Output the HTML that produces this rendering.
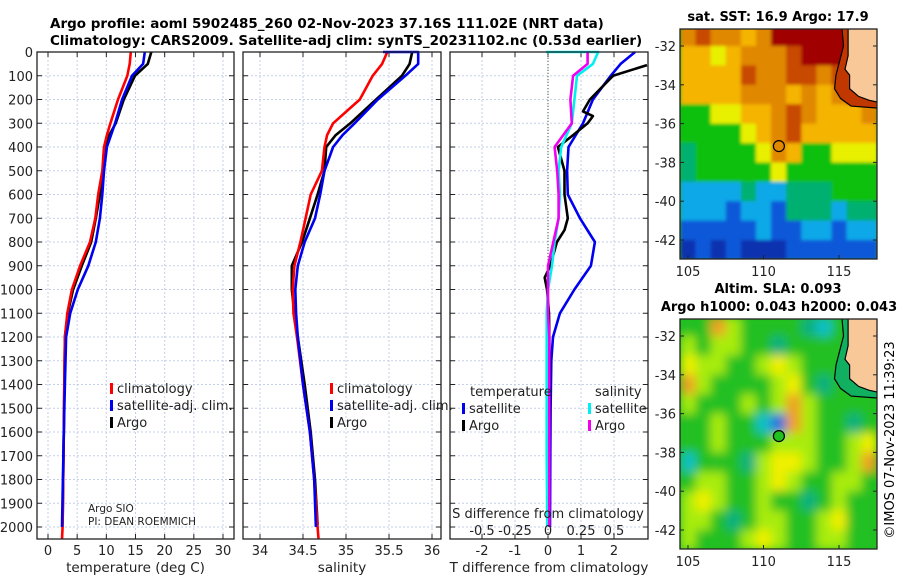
<!DOCTYPE html>
<html><head><meta charset="utf-8">
<style>
html,body{margin:0;padding:0;background:#fff;}
svg{display:block;font-family:"DejaVu Sans","Liberation Sans",sans-serif;}
</style></head>
<body>
<svg id="fig" width="900" height="580" viewBox="0 0 900 580" xmlns="http://www.w3.org/2000/svg">
<defs>
<filter id="blurSla" x="-5%" y="-5%" width="110%" height="110%"><feGaussianBlur stdDeviation="5" edgeMode="duplicate"/></filter>
<filter id="blurSst" x="-5%" y="-5%" width="110%" height="110%"><feGaussianBlur stdDeviation="1.5" edgeMode="duplicate"/></filter>
</defs>
<rect x="0" y="0" width="900" height="580" fill="#fff"/>
<text x="50" y="28" font-size="13.5" font-weight="bold">Argo profile: aoml 5902485_260 02-Nov-2023 37.16S 111.02E (NRT data)</text>
<text x="50" y="45" font-size="13.5" font-weight="bold">Climatology: CARS2009. Satellite-adj clim: synTS_20231102.nc (0.53d earlier)</text>
<g id="p1"></g>
<g id="p2"></g>
<g id="p3"></g>
<g id="m1"></g>
<g id="m2"></g>
<text transform="translate(894,440) rotate(-90)" text-anchor="middle" font-size="13">©IMOS 07-Nov-2023 11:39:23</text>
</svg>
<script>
// ---------- data ----------
const depthTicks = [0,100,200,300,400,500,600,700,800,900,1000,1100,1200,1300,1400,1500,1600,1700,1800,1900,2000];
const tempTicks = [0,5,10,15,20,25,30];
const salTicks = [34,34.5,35,35.5,36];
const tdiffTicks = [-2,-1,0,1,2];
const sdiffTicks = [-0.5,-0.25,0,0.25,0.5];
const sdiffTickLabels = ["-0.5","-0.25","0","0.25","0.5"];

const climDepth = [0,50,100,200,300,350,400,500,600,700,800,900,1000,1100,1200,1400,1600,1800,2000,2050];
const tempClim = [14.2,14.0,13.6,12.0,10.7,10.1,9.6,9.3,8.6,8.1,7.2,5.5,4.1,3.3,2.9,2.8,2.7,2.6,2.5,2.4];
const salClim = [35.48,35.42,35.31,35.16,34.85,34.78,34.75,34.72,34.59,34.53,34.47,34.40,34.38,34.39,34.43,34.50,34.58,34.63,34.67,34.68];

const satDepth = [0,50,100,200,300,350,400,500,600,700,800,900,1000,1100,1200,1400,1600,1800,2000];
const tempSat = [16.6,16.3,14.4,12.7,11.5,10.8,10.1,9.6,9.3,8.9,8.2,6.9,5.1,3.8,3.1,2.9,2.7,2.55,2.4];
const salSatDepth = [0,0,50,100,200,300,350,400,500,600,700,800,900,1000,1100,1200,1400,1600,1800,2000];
const salSat = [35.43,35.84,35.84,35.69,35.37,35.10,34.96,34.85,34.75,34.70,34.64,34.52,34.44,34.41,34.42,34.44,34.50,34.58,34.63,34.65];

const argoDepth = [0,50,100,200,300,350,400,500,600,700,800,900,1000,1100,1200,1400,1600,1800,1990];
const tempArgo = [17.7,17.1,14.9,13.0,11.6,10.5,9.9,9.4,8.9,8.2,7.4,5.8,4.3,3.4,2.9,2.8,2.7,2.6,2.5];
const salArgo = [35.77,35.74,35.65,35.35,35.05,34.88,34.77,34.75,34.67,34.58,34.49,34.37,34.37,34.40,34.44,34.52,34.59,34.64,34.67];

const diffDepth = [0,50,100,200,300,400,500,600,700,800,900,1000,1100,1200,1300,1500,1700,2000];
const dTsat = [2.64,2.2,1.9,1.36,1.06,0.62,0.58,0.6,0.97,1.42,1.3,0.8,0.36,0.15,0.1,0.08,0.07,0.06];
const dTargoDepth = [55,100,200,250,270,300,350,400,500,600,700,750,800,900,950,1000,1100,1300,1500,1700,1990];
const dTargo = [3.0,1.97,1.27,1.06,1.36,1.2,0.76,0.3,0.5,0.5,0.6,0.5,0.27,0.07,-0.1,-0.03,0.03,0.05,0.05,0.03,0.03];
const dSsatDepth = [0,0,50,100,200,300,400,500,600,700,800,900,1000,1100,1200,1300,1500,1700,2000];
const dSsat = [-0.015,0.38,0.34,0.22,0.2,0.18,0.1,0.08,0.09,0.08,0.05,0.03,0.0,-0.01,-0.01,-0.01,-0.01,-0.01,-0.005];
const dSargo = [0.3,0.3,0.19,0.17,0.18,0.05,0.07,0.08,0.08,0.04,0.0,0.0,0.0,0.01,0.01,0.01,0.01,0.01];

const lonTicks = [105,110,115];
const latTicks = [-32,-34,-36,-38,-40,-42];
const argoLon = 111.02, argoLat = -37.16;
const sstGrid = [
[2,1,2,2,3,2,0,0,0,0,0,1,10],
[3,3,4,3,2,2,2,1,0,0,0,1,10],
[3,3,3,3,1,2,2,1,1,2,1,1,10],
[3,3,3,3,2,2,2,3,2,3,2,1,1],
[5,5,4,4,3,3,2,1,2,3,3,3,2],
[5,5,5,5,4,3,2,1,3,3,3,3,3],
[6,5,5,5,5,4,2,3,5,5,4,4,4],
[6,5,5,5,5,5,4,5,5,5,5,5,5],
[7,7,7,7,6,7,7,6,6,6,5,5,5],
[7,7,7,8,7,7,8,6,6,6,7,6,6],
[8,8,8,8,8,7,8,8,7,7,8,7,7],
[9,8,9,8,9,9,9,8,8,8,8,8,8]];
const slaGrid = [
[3,3,6,4,3,3,3,3,2,1,3,3,3],
[4,3,4,4,3,3,2,3,3,3,3,3,3],
[5,4,4,3,3,4,5,4,3,3,3,3,3],
[6,4,3,3,3,3,4,5,3,2,3,3,3],
[4,3,3,3,4,3,4,6,4,3,3,3,3],
[3,3,4,3,3,1,0,6,4,3,3,2,3],
[3,3,4,3,3,3,4,4,4,3,3,4,5],
[1,3,3,3,2,4,5,5,4,3,3,4,6],
[3,4,4,3,3,4,5,4,3,3,4,4,3],
[4,5,4,3,3,4,3,3,2,3,4,3,3],
[4,4,3,2,3,4,4,3,3,4,5,3,3],
[4,3,3,3,4,5,4,3,3,4,4,3,3]];
const landLon = [115.6,115.6,115.4,115.7,115.7,116.3,117.0,117.6,117.6];
const landLat = [-31.1,-32.5,-33.2,-33.5,-34.2,-34.6,-34.8,-34.9,-31.1];
const shelfLon = [115.2,115.3,114.8,114.7,115.1,115.8,117.6];
const shelfLat = [-31.1,-32.0,-33.5,-34.2,-34.7,-35.1,-35.2];

// ---------- helpers ----------
const NS = "http://www.w3.org/2000/svg";
function mk(parent, tag, attrs){ const e=document.createElementNS(NS,tag); for(const k in attrs) e.setAttribute(k,attrs[k]); parent.appendChild(e); return e; }
function txt(parent, x, y, s, size, anchor){ const t=mk(parent,'text',{x:x,y:y,'font-size':size,'text-anchor':anchor||'start',fill:'#222'}); t.textContent=s; return t; }

const TOP=52, D2000=527, BOT=539;
function yD(d){ return TOP + d*(D2000-TOP)/2000; }
function lin(v0,x0,v1,x1){ return v=> x0 + (v-v0)*(x1-x0)/(v1-v0); }
const xT = lin(0,48,30,223);
const xS = lin(34,260,36,432);
const xTd = lin(0,548,2,614);
const xSd = lin(0,548,0.5,614);

function panel(g, L, R, xs, xticks, xlabels, xtitle, gridTicks, showY){
  gridTicks.forEach(v=>{ const l=mk(g,'line',{x1:xs(v),x2:xs(v),y1:TOP,y2:BOT,stroke:'#c6cfe8','stroke-width':1,'stroke-dasharray':'2,2'});   });
  depthTicks.forEach(d=>{ const l=mk(g,'line',{x1:L,x2:R,y1:yD(d),y2:yD(d),stroke:'#c6cfe8','stroke-width':1,'stroke-dasharray':'2,2'});   });
  depthTicks.forEach(d=>{ mk(g,'line',{x1:L,x2:L+5,y1:yD(d),y2:yD(d),stroke:'#222'}); mk(g,'line',{x1:R-5,x2:R,y1:yD(d),y2:yD(d),stroke:'#222'}); });
  xticks.forEach(v=>{ mk(g,'line',{x1:xs(v),x2:xs(v),y1:BOT,y2:BOT-5,stroke:'#222'}); mk(g,'line',{x1:xs(v),x2:xs(v),y1:TOP,y2:TOP+5,stroke:'#222'}); });
  if(showY){ depthTicks.forEach(d=>{ const t=txt(g,33,yD(d)+5,String(d),13,'end');   }); }
  xticks.forEach((v,i)=>{ const t=txt(g,xs(v),BOT+16,xlabels[i],13,'middle');   });
  const tt=txt(g,(L+R)/2,BOT+33,xtitle,13.5,'middle');  
}
function frame(g,L,R){ const f=mk(g,'rect',{x:L,y:TOP,width:R-L,height:BOT-TOP,fill:'none',stroke:'#222','stroke-width':1.3});   }
function line(g, depths, vals, xs, color, name, w){
  const pts = depths.map((d,i)=> xs(vals[i]).toFixed(1)+','+yD(d).toFixed(1)).join(' ');
  const p=mk(g,'polyline',{points:pts,fill:'none',stroke:color,'stroke-width':w||2.6,'stroke-linejoin':'round'});
   
}
function legend(g, x, y, color, label, name){
  const r=mk(g,'rect',{x:x,y:y-9,width:3,height:11,fill:color});  
  const t=txt(g,x+7,y+1,label,13);  
}

// ---------- panel 1 ----------
const p1=document.getElementById('p1');
panel(p1,37,234,xT,tempTicks,tempTicks.map(String),'temperature (deg C)',tempTicks,true);
line(p1,argoDepth,tempArgo,xT,'#000','argo-temperature-line');
line(p1,climDepth,tempClim,xT,'#f00','climatology-temperature-line');
line(p1,satDepth,tempSat,xT,'#0000f0','satellite-temperature-line');
legend(p1,110,392,'#f00','climatology','legend-climatology');
legend(p1,110,409,'#0000f0','satellite-adj. clim.','legend-satellite');
legend(p1,110,426,'#000','Argo','legend-argo');
let a=txt(p1,88,512,'Argo SIO',10.5);  
a=txt(p1,88,525,'PI: DEAN ROEMMICH',10.5);  
frame(p1,37,234);

// ---------- panel 2 ----------
const p2=document.getElementById('p2');
panel(p2,243,441,xS,salTicks,["34","34.5","35","35.5","36"],'salinity',salTicks,false);
line(p2,argoDepth,salArgo,xS,'#000','argo-salinity-line');
line(p2,climDepth,salClim,xS,'#f00','climatology-salinity-line');
line(p2,salSatDepth,salSat,xS,'#0000f0','satellite-salinity-line');
legend(p2,330,392,'#f00','climatology','legend-climatology');
legend(p2,330,409,'#0000f0','satellite-adj. clim.','legend-satellite');
legend(p2,330,426,'#000','Argo','legend-argo');
frame(p2,243,441);

// ---------- panel 3 ----------
const p3=document.getElementById('p3');
panel(p3,450,648,xTd,tdiffTicks,tdiffTicks.map(String),'T difference from climatology',tdiffTicks,false);
mk(p3,'line',{x1:xTd(0),x2:xTd(0),y1:TOP,y2:BOT,stroke:'#465a32','stroke-width':1,'stroke-dasharray':'1,2'});
line(p3,diffDepth,dTsat,xTd,'#0000f0','satellite-temperature-difference-line');
line(p3,dTargoDepth,dTargo,xTd,'#000','argo-temperature-difference-line');
line(p3,dSsatDepth,dSsat,xSd,'#00f0f0','satellite-salinity-difference-line');
line(p3,diffDepth,dSargo,xSd,'#f000f0','argo-salinity-difference-line');
a=txt(p3,470,396,'temperature',13);  
a=txt(p3,595,396,'salinity',13);  
legend(p3,462,412,'#0000f0','satellite','legend-t-satellite');
legend(p3,462,429,'#000','Argo','legend-t-argo');
legend(p3,588,412,'#00f0f0','satellite','legend-s-satellite');
legend(p3,588,429,'#f000f0','Argo','legend-s-argo');
a=txt(p3,548,518,'S difference from climatology',13,'middle');  
sdiffTicks.forEach((v,i)=>{ const t=txt(p3,xSd(v),535,sdiffTickLabels[i],13,'middle');   });
frame(p3,450,648);

// ---------- maps ----------
const sstColors=['#a00000','#c84800','#e08800','#f4b400','#e8f000','#10c010','#00b070','#10a8e8','#1058d8','#0830b0','#f8c898'];
const slaColors=['#2070e0','#10c0c8','#10b080','#20c020','#a8ec10','#f0f000','#f0a020','','','','#f8c898'];
const shelfColor={m1:'#c03800',m2:'#10b060'};
function drawMap(id, top, grid, colors, title1, title2, filt){
  const g=document.getElementById(id);
  const L=680,R=877,B=top+230;
  const lat32 = top+17, pxLat=19.4;
  const xL=lin(105,688,115,839);
  const yL=v=> lat32 + (-32 - v)*pxLat;
  const cp=mk(g,'clipPath',{id:id+'clip'}); mk(cp,'rect',{x:L,y:top,width:R-L,height:B-top});
  const outer=mk(g,'g',{'clip-path':'url(#'+id+'clip)'});
  mk(outer,'rect',{x:L,y:top,width:R-L,height:B-top,fill:colors[id==='m1'?5:3]});
  const cells=mk(outer,'g',{filter:'url(#'+filt+')'});
  grid.forEach((row,r)=>row.forEach((c,k)=>{
    const lon0=104.5+k, lat0=-31-r;
    const x0=xL(lon0), y0=yL(lat0);
    const rc=mk(cells,'rect',{x:x0.toFixed(1),y:y0.toFixed(1),width:(xL(lon0+1)-x0+0.6).toFixed(1),height:(yL(lat0-1)-y0+0.6).toFixed(1),fill:colors[c]});
     
  }));
  const shelfPts=shelfLon.map((v,i)=>xL(v).toFixed(1)+','+yL(shelfLat[i]).toFixed(1));
  const sp=mk(outer,'polygon',{points:shelfPts.concat([xL(117.6)+','+yL(-31.1)]).join(' '),fill:shelfColor[id],stroke:'#000','stroke-width':1.2});
   
  const lp=mk(outer,'polygon',{points:landLon.map((v,i)=>xL(v).toFixed(1)+','+yL(landLat[i]).toFixed(1)).join(' '),fill:'#f8c898',stroke:'#000','stroke-width':1.2});
   
  const mc=mk(g,'circle',{cx:xL(argoLon),cy:yL(argoLat),r:5.5,fill:colors[id==='m1'?2:3],stroke:'#000','stroke-width':1.2});
   
  const f=mk(g,'rect',{x:L,y:top,width:R-L,height:B-top,fill:'none',stroke:'#222','stroke-width':1.3});  
  latTicks.forEach(v=>{ mk(g,'line',{x1:L,x2:L+4,y1:yL(v),y2:yL(v),stroke:'#222'}); mk(g,'line',{x1:R-4,x2:R,y1:yL(v),y2:yL(v),stroke:'#222'});
    const t=txt(g,L-4,yL(v)+5,String(v),13,'end');   });
  lonTicks.forEach(v=>{ mk(g,'line',{x1:xL(v),x2:xL(v),y1:B,y2:B-4,stroke:'#222'});
    const t=txt(g,xL(v),B+17,String(v),13,'middle');   });
  let t=mk(g,'text',{x:778,y:title2?top-26:top-8,'font-size':13,'font-weight':'bold','text-anchor':'middle'}); t.textContent=title1;
   
  if(title2){ t=mk(g,'text',{x:779,y:top-8,'font-size':13,'font-weight':'bold','text-anchor':'middle'}); t.textContent=title2;
      }
}
drawMap('m1',29,sstGrid,sstColors,'sat. SST: 16.9 Argo: 17.9',null,'blurSst');
drawMap('m2',319,slaGrid,slaColors,'Altim. SLA: 0.093','Argo h1000: 0.043 h2000: 0.043','blurSla');
</script>
</body></html>
